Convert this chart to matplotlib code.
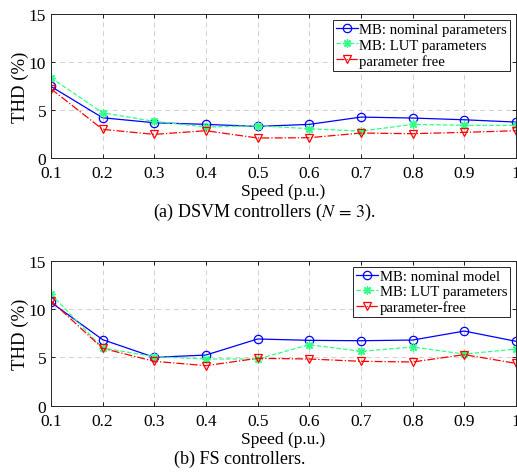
import matplotlib
matplotlib.use('Agg')
import matplotlib.pyplot as plt

plt.rcParams['font.family'] = 'Liberation Serif'
plt.rcParams['mathtext.fontset'] = 'stix'

speed = [0.1, 0.2, 0.3, 0.4, 0.5, 0.6, 0.7, 0.8, 0.9, 1.0]
speed_ticks = ['0.1', '0.2', '0.3', '0.4', '0.5', '0.6', '0.7', '0.8', '0.9', '1']

# DSVM controllers (N = 3)
dsvm_nominal = [7.45, 4.19, 3.67, 3.50, 3.29, 3.50, 4.26, 4.16, 3.98, 3.74]
dsvm_lut = [8.35, 4.71, 3.81, 3.22, 3.36, 3.05, 2.80, 3.50, 3.40, 3.40]
dsvm_free = [7.20, 2.98, 2.46, 2.84, 2.08, 2.11, 2.60, 2.53, 2.67, 2.84]

# FS controllers
fs_nominal = [10.69, 6.83, 5.00, 5.24, 6.90, 6.76, 6.72, 6.79, 7.72, 6.66]
fs_lut = [11.55, 5.97, 5.07, 4.83, 4.83, 6.31, 5.62, 6.07, 5.34, 5.86]
fs_free = [10.86, 5.93, 4.59, 4.14, 4.90, 4.83, 4.59, 4.52, 5.28, 4.38]

green = '#33ff88'
asterisk = (8, 2, 0)

fig = plt.figure(figsize=(5.17, 4.77), dpi=100)
ax1 = fig.add_axes([0.0986, 0.6667, 0.8994, 0.3019])
ax2 = fig.add_axes([0.0986, 0.1474, 0.8994, 0.3040])


def draw(ax, nom, lut, free, labels):
    ax.plot(speed, nom, '-', color='blue', lw=0.9, marker='o', ms=6,
            mfc='none', mec='blue', mew=0.9, label=labels[0])
    ax.plot(speed, lut, '--', color=green, lw=0.9, marker=asterisk, ms=6,
            mec=green, mew=1.0, label=labels[1])
    ax.plot(speed, free, '-.', color='red', lw=0.9, marker='v', ms=6,
            mfc='none', mec='red', mew=0.9, label=labels[2])
    ax.set_xlim(0.1, 1.0)
    ax.set_ylim(0, 15)
    ax.set_xticks(speed)
    ax.set_xticklabels(speed_ticks)
    ax.set_yticks([0, 5, 10, 15])
    ax.tick_params(direction='in', length=3, width=0.6, labelsize=12.5,
                   top=True, right=True)
    ax.tick_params(axis='x', pad=5)
    ax.tick_params(axis='y', pad=3.5)
    ax.grid(True, color='#d0d0d0', linestyle=(0, (5, 4)), lw=0.7)
    for s in ax.spines.values():
        s.set_linewidth(0.7)
        s.set_color('#262626')
    ax.set_xlabel('Speed (p.u.)', fontsize=12.5, labelpad=1.5)
    ax.set_ylabel('THD (%)', fontsize=13.5, labelpad=0)
    leg = ax.legend(loc='upper right', fontsize=10.6, handlelength=1.5,
                    handletextpad=0.1, borderpad=0.2, labelspacing=0.15,
                    borderaxespad=0.4, fancybox=False, framealpha=1)
    leg.get_frame().set_edgecolor('#262626')
    leg.get_frame().set_linewidth(0.7)


draw(ax1, dsvm_nominal, dsvm_lut, dsvm_free,
     ['MB: nominal parameters', 'MB: LUT parameters', 'parameter free'])
draw(ax2, fs_nominal, fs_lut, fs_free,
     ['MB: nominal model', 'MB: LUT parameters', 'parameter-free'])

fig.text(264 / 517, 1 - 212 / 477, r'(a) DSVM controllers ($N\,=\,3$).',
         ha='center', va='center', fontsize=13)
fig.text(240 / 517, 1 - 459 / 477, '(b) FS controllers.',
         ha='center', va='center', fontsize=13)

fig.savefig('out.png', dpi=100)
